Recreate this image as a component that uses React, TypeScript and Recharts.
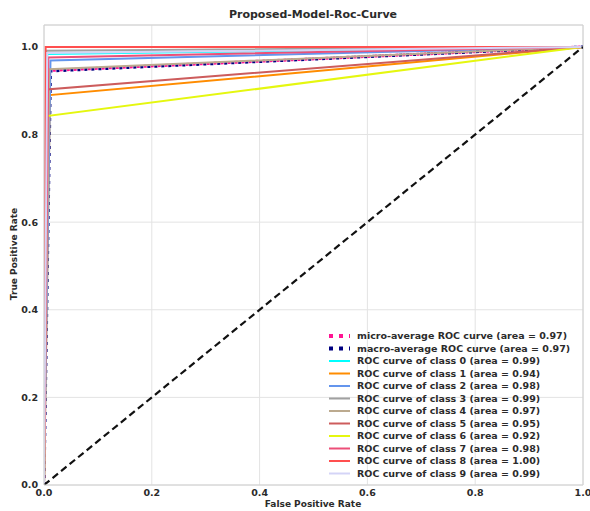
import { LineChart, Line, XAxis, YAxis, CartesianGrid, ReferenceLine } from 'recharts';

const classLabels = ['0', '1', '2', '3', '4', '5', '6', '7', '8', '9'];
const classAreas = [0.99, 0.94, 0.98, 0.99, 0.97, 0.95, 0.92, 0.98, 1.0, 0.99];
const classFpr = [0.006, 0.011, 0.012, 0.004, 0.01, 0.005, 0.005, 0.008, 0.003, 0.006];
const classTpr = [0.984, 0.89, 0.969, 0.991, 0.949, 0.903, 0.842, 0.976, 1.0, 0.986];
const classColors = [
  '#00ffff', '#ff8c00', '#6495ed', '#a0a0a0', '#bcaa8f',
  '#cd5c5c', '#e5f70f', '#ec4f78', '#ff4f4f', '#d4d4f7',
];

const microFpr = [0, 0.006, 1];
const microTpr = [0, 0.946, 1];
const macroFpr = [0, 0.012, 1];
const macroTpr = [0, 0.945, 1];
const microArea = 0.97;
const macroArea = 0.97;

const chanceX = [0, 1];
const chanceY = [0, 1];

const xTicks = [0, 0.2, 0.4, 0.6, 0.8, 1.0];
const yTicks = [0, 0.2, 0.4, 0.6, 0.8, 1.0];

const toPoints = (xs: number[], ys: number[]) => xs.map((x, i) => ({ x, y: ys[i] }));

const W = 590;
const H = 511;
const FONT = '"DejaVu Sans", sans-serif';
const TEXT = '#2b2b2b';
const GRID = '#e3e3e3';
const FRAME = '#d0d0d0';

const tickStyle = { fontFamily: FONT, fontSize: 9.5, fontWeight: 700, fill: TEXT };

type LegendRow = { label: string; color: string; dotted: boolean };

const legendRows: LegendRow[] = [
  { label: `micro-average ROC curve (area = ${microArea.toFixed(2)})`, color: '#ff1493', dotted: true },
  { label: `macro-average ROC curve (area = ${macroArea.toFixed(2)})`, color: '#000080', dotted: true },
  ...classLabels.map((c, i) => ({
    label: `ROC curve of class ${c} (area = ${classAreas[i].toFixed(2)})`,
    color: classColors[i],
    dotted: false,
  })),
];

export default function App() {
  return (
    <div style={{ position: 'absolute', left: 0, top: 0, width: W, height: H, background: '#fff' }}>
      <LineChart width={W} height={H} margin={{ top: 25, right: 7, left: 0, bottom: 0 }}>
        <CartesianGrid stroke={GRID} strokeWidth={1} />
        <XAxis
          type="number"
          dataKey="x"
          domain={[0, 1]}
          ticks={xTicks}
          tickFormatter={(v: number) => v.toFixed(1)}
          height={26}
          tickLine={false}
          tickSize={0}
          tickMargin={4}
          axisLine={{ stroke: FRAME }}
          tick={tickStyle}
          allowDataOverflow
        />
        <YAxis
          type="number"
          dataKey="y"
          domain={[0, 1.05]}
          ticks={yTicks}
          tickFormatter={(v: number) => v.toFixed(1)}
          width={44}
          tickLine={false}
          tickSize={0}
          tickMargin={6}
          axisLine={{ stroke: FRAME }}
          tick={tickStyle}
          allowDataOverflow
        />
        <ReferenceLine x={1} stroke={FRAME} />
        <ReferenceLine y={1.05} stroke={FRAME} />
        <Line
          data={toPoints(microFpr, microTpr)}
          dataKey="y"
          name="micro"
          type="linear"
          stroke="#ff1493"
          strokeWidth={3}
          strokeDasharray="3 4"
          dot={false}
          activeDot={false}
          isAnimationActive={false}
        />
        <Line
          data={toPoints(macroFpr, macroTpr)}
          dataKey="y"
          name="macro"
          type="linear"
          stroke="#000080"
          strokeWidth={3}
          strokeDasharray="3 4"
          dot={false}
          activeDot={false}
          isAnimationActive={false}
        />
        {classLabels.map((c, i) => (
          <Line
            key={`class-${c}`}
            data={toPoints([0, classFpr[i], 1], [0, classTpr[i], 1])}
            dataKey="y"
            name={`class ${c}`}
            type="linear"
            stroke={classColors[i]}
            strokeWidth={2}
            dot={false}
            activeDot={false}
            isAnimationActive={false}
          />
        ))}
        <Line
          data={toPoints(chanceX, chanceY)}
          dataKey="y"
          name="chance"
          type="linear"
          stroke="#111"
          strokeWidth={2.2}
          strokeDasharray="7 4"
          dot={false}
          activeDot={false}
          isAnimationActive={false}
        />
      </LineChart>

      <svg
        width={W}
        height={H}
        style={{ position: 'absolute', left: 0, top: 0, pointerEvents: 'none' }}
      >
        <text x={313} y={18} textAnchor="middle" fontFamily={FONT} fontSize={11} fontWeight={700} fill={TEXT}>
          Proposed-Model-Roc-Curve
        </text>
        <text x={313} y={507} textAnchor="middle" fontFamily={FONT} fontSize={9} fontWeight={700} fill={TEXT}>
          False Positive Rate
        </text>
        <text
          x={0}
          y={0}
          transform="translate(17,254) rotate(-90)"
          textAnchor="middle"
          fontFamily={FONT}
          fontSize={9}
          fontWeight={700}
          fill={TEXT}
        >
          True Positive Rate
        </text>
        {legendRows.map((r, i) => {
          const y = 336 + i * 12.5;
          return (
            <g key={r.label}>
              {r.dotted ? (
                <line x1={329} x2={350} y1={y} y2={y} stroke={r.color} strokeWidth={4} strokeDasharray="4 6" />
              ) : (
                <line x1={329} x2={350} y1={y} y2={y} stroke={r.color} strokeWidth={2} />
              )}
              <text x={357} y={y + 3.4} fontFamily={FONT} fontSize={9.5} fontWeight={700} fill={TEXT}>
                {r.label}
              </text>
            </g>
          );
        })}
      </svg>
    </div>
  );
}
